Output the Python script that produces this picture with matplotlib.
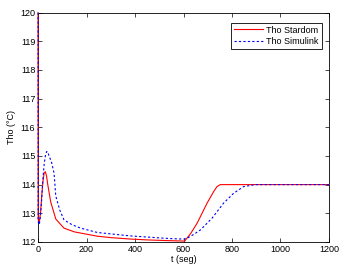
import matplotlib
matplotlib.use("Agg")
import matplotlib.pyplot as plt

# Tho Stardom (red, solid)
t_stardom = [0, 0.5, 5, 10, 15, 20, 25, 30, 35, 40, 52, 73, 107, 150, 244, 300, 381, 450, 519, 560, 601,
             605, 630, 656, 697, 724, 738, 752, 800, 900, 1000, 1100, 1200]
tho_stardom = [120, 112.8, 112.7, 113.0, 113.6, 114.1, 114.4, 114.45, 114.3, 114.0, 113.4, 112.8, 112.48,
               112.35, 112.2, 112.15, 112.1, 112.07, 112.05, 112.04, 112.03,
               112.03, 112.3, 112.65, 113.35, 113.75, 113.93, 114.0, 114.0, 114.0, 114.0, 114.0, 114.0]

# Tho Simulink (blue, dashed)
t_simulink = [0, 0.5, 5, 10, 15, 20, 25, 30, 35, 40, 45, 55, 66, 73, 90, 107, 140, 176, 244, 312, 381,
              450, 519, 560, 601, 615, 640, 670, 718, 765, 807, 848, 896, 950, 1000, 1100, 1200]
tho_simulink = [120, 112.7, 112.6, 112.9, 113.5, 114.2, 114.7, 115.0, 115.15, 115.15, 115.0, 114.8, 114.4,
                113.6, 113.1, 112.77, 112.6, 112.48, 112.33, 112.27, 112.21,
                112.17, 112.13, 112.11, 112.1, 112.13, 112.25, 112.42, 112.83, 113.35, 113.7, 113.93, 114.0,
                114.0, 114.0, 114.0, 114.0]

x_ticks = [0, 200, 400, 600, 800, 1000, 1200]
y_ticks = [112, 113, 114, 115, 116, 117, 118, 119, 120]

plt.rcParams['font.family'] = ['Liberation Sans', 'DejaVu Sans']

fig = plt.figure(figsize=(3.43, 2.70), dpi=100)
ax = fig.add_axes([0.111, 0.104, 0.848, 0.849])

ax.plot(t_stardom, tho_stardom, color='red', linewidth=0.8, label='Tho Stardom',
        zorder=3, clip_on=False)
ax.plot(t_simulink, tho_simulink, color='blue', linewidth=0.8, linestyle=(0, (2, 2)), label='Tho Simulink',
        zorder=3, clip_on=False)

ax.set_xlim(0, 1200)
ax.set_ylim(112, 120)
ax.set_xticks(x_ticks)
ax.set_yticks(y_ticks)
ax.tick_params(direction='in', length=3, width=0.5, labelsize=6.5, top=True, right=True, pad=2)
for s in ax.spines.values():
    s.set_linewidth(0.6)

ax.set_xlabel('t (seg)', fontsize=6.5, labelpad=1)
ax.set_ylabel('Tho (°C)', fontsize=6.5, labelpad=3)

leg = ax.legend(loc='upper right', fontsize=6.5, fancybox=False, framealpha=1, edgecolor='black',
                borderpad=0.3, handlelength=3.2, handletextpad=0.4, labelspacing=0.3,
                bbox_to_anchor=(0.99, 0.975))
leg.get_frame().set_linewidth(0.6)
leg.set_zorder(5)

fig.savefig('out.png', dpi=100)
